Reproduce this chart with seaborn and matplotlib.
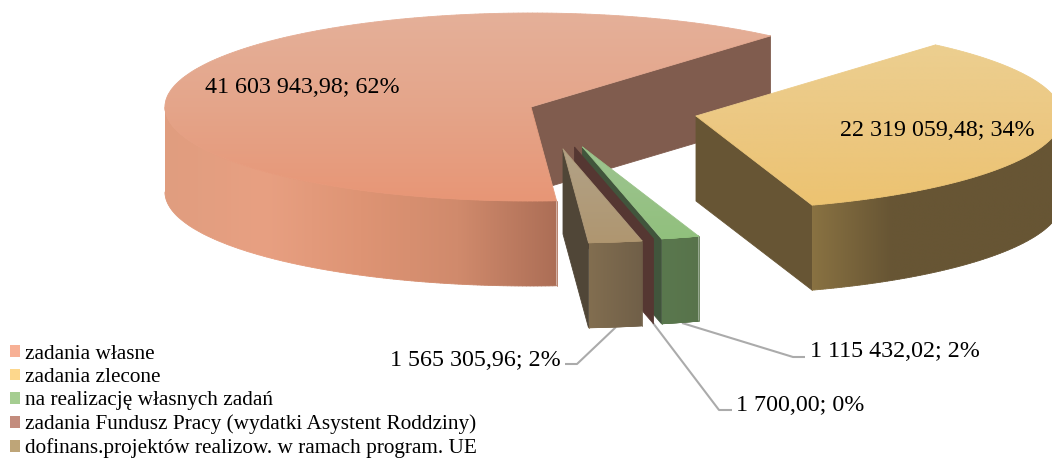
import numpy as np
import matplotlib
matplotlib.use("Agg")
import matplotlib.pyplot as plt
from matplotlib.patches import Patch, Polygon
from matplotlib.collections import LineCollection
from matplotlib.colors import ListedColormap
import seaborn as sns

categories = ["zadania własne", "zadania zlecone", "na realizację własnych zadań",
              "zadania Fundusz Pracy (wydatki Asystent Roddziny)",
              "dofinans.projektów realizow. w ramach program. UE"]
values = [41603943.98, 22319059.48, 1115432.02, 1700.00, 1565305.96]
legend_colors = ["#F7B095", "#FDD78C", "#A5CD91", "#C38C7D", "#BEA578"]

sns.set_theme(style="white")
plt.rcParams['font.family'] = ['Liberation Serif', 'DejaVu Sans']

W, H = 1052, 459
fig = plt.figure(figsize=(W / 100, H / 100), dpi=100)
ax = fig.add_axes([0, 0, 1, 1])
ax.set_xlim(0, W)
ax.set_ylim(H, 0)
ax.axis("off")
ax.set_autoscale_on(False)

RX, RY, DEPTH = 366.0, 94.0, 85.0
START = -86.0
total = sum(values)
sweeps = [v / total * 360 for v in values]
ends = START - np.cumsum(sweeps)
starts = np.r_[START, ends[:-1]]
# normalise so that each slice's first edge lies in (-180, 180]
shift = np.where(starts < -180, 360.0, 0.0)
starts = starts + shift
ends = ends + shift


def rgb(*c):
    return tuple(x / 255 for x in c)


styles = [
    dict(apex=(531, 107), top=[rgb(229, 176, 153), rgb(228, 165, 138), rgb(232, 150, 118)],
         rim=[rgb(224, 157, 127), rgb(232, 160, 130), rgb(222, 148, 116), rgb(208, 138, 108), rgb(172, 110, 86)],
         wall=rgb(128, 92, 78)),
    dict(apex=(696, 116), top=[rgb(236, 207, 144), rgb(236, 200, 130), rgb(236, 195, 113)],
         rim=[rgb(137, 114, 66), rgb(103, 85, 52), rgb(103, 85, 52), rgb(103, 85, 52)],
         wall=rgb(103, 85, 52)),
    dict(apex=(582.5, 147), top=[rgb(158, 196, 145), rgb(145, 192, 125)],
         rim=[rgb(90, 120, 78), rgb(88, 115, 75)], wall=rgb(65, 85, 60)),
    dict(apex=(574.5, 147), top=[rgb(85, 55, 50), rgb(85, 55, 50)],
         rim=[rgb(85, 55, 50), rgb(85, 55, 50)], wall=rgb(85, 55, 50)),
    dict(apex=(563, 149), top=[rgb(178, 162, 135), rgb(175, 150, 112)],
         rim=[rgb(130, 110, 80), rgb(112, 95, 72)], wall=rgb(80, 70, 55)),
]


def arc(apex, a1, a2, n=160, dz=0.0):
    t = np.radians(np.linspace(a1, a2, n))
    return np.c_[apex[0] + RX * np.cos(t), apex[1] - RY * np.sin(t) + dz]


def gradient_poly(pts, stops, vertical, z):
    pal = sns.blend_palette(stops, n_colors=256)
    cmap = ListedColormap(pal)
    x0, y0 = pts.min(axis=0)
    x1, y1 = pts.max(axis=0)
    x1 = min(max(x1, x0 + 1), W) if not vertical else max(x1, x0 + 1)
    y1 = max(y1, y0 + 1)
    g = np.linspace(0, 1, 256)
    arr = g[:, None] if vertical else g[None, :]
    im = ax.imshow(arr, cmap=cmap, extent=(x0, x1, y1, y0), origin="upper",
                   aspect="auto", zorder=z, interpolation="bilinear", vmin=0, vmax=1)
    poly = Polygon(pts, closed=True, transform=ax.transData, fc="none", ec="none")
    ax.add_patch(poly)
    im.set_clip_path(poly)
    closed = np.r_[pts, pts[:1]]
    segs = np.stack([closed[:-1], closed[1:]], axis=1)
    mids = segs.mean(axis=1)
    frac = (mids[:, 1] - y0) / (y1 - y0) if vertical else (mids[:, 0] - x0) / (x1 - x0)
    cols = [pal[int(np.clip(f, 0, 1) * 255)] for f in frac]
    ax.add_collection(LineCollection(segs, colors=cols, linewidths=0.6, zorder=z + 0.01,
                                     capstyle="round"))


def draw_slice(i, z):
    st = styles[i]
    apex = st["apex"]
    a1, a2 = starts[i], ends[i]
    # cut face on the clockwise edge
    p = arc(apex, a2, a2, n=1)[0]
    wall = np.array([apex, p, p + [0, DEPTH], np.array(apex) + [0, DEPTH]])
    ax.add_patch(Polygon(wall, closed=True, fc=st["wall"], ec=st["wall"], lw=0.6, zorder=z))
    # outer rim: only the part facing the viewer
    lo2, hi2 = max(a2, -180.0), min(a1, 0.0)
    if hi2 - lo2 > 0.05:
        up = arc(apex, lo2, hi2)
        rim = np.r_[up, up[::-1] + [0, DEPTH]]
        gradient_poly(rim, st["rim"], False, z + 0.1)
    # top face
    if a1 - a2 > 0.05:
        top = np.r_[[apex], arc(apex, a2, a1, n=300)]
        gradient_poly(top, st["top"], True, z + 0.2)


for z, i in enumerate([0, 1, 2, 3, 4]):
    draw_slice(i, 2 + z)

# data labels
label_pos = [(302, 87.5), (937, 130.5), (895, 351.5), (800, 405.5), (475, 360.5)]
leaders = [None, None,
           [(682, 323), (793, 357), (805, 357)],
           [(653, 323), (719, 410), (732, 410)],
           [(616, 327), (577, 364), (565, 364)]]
for v, pos, lead in zip(values, label_pos, leaders):
    num = f"{v:,.2f}".replace(",", " ").replace(".", ",")
    ax.text(pos[0], pos[1], f"{num}; {round(v / total * 100)}%", fontsize=17.3,
            color="black", ha="center", va="center", zorder=20)
    if lead is not None:
        xs, ys = zip(*lead)
        ax.plot(xs, ys, color="#ABABAB", lw=1.5, zorder=1.5, solid_capstyle="butt")

handles = [Patch(fc=c, ec="none") for c in legend_colors]
ax.legend(handles, categories, loc="lower left", bbox_to_anchor=(10 / W, 0.5 / H),
          bbox_transform=fig.transFigure, frameon=False, fontsize=15.35,
          handlelength=0.48, handleheight=0.48, handletextpad=0.24,
          labelspacing=0.2, borderpad=0.0, borderaxespad=0.0, labelcolor="black")

fig.savefig("out.png", dpi=100)
